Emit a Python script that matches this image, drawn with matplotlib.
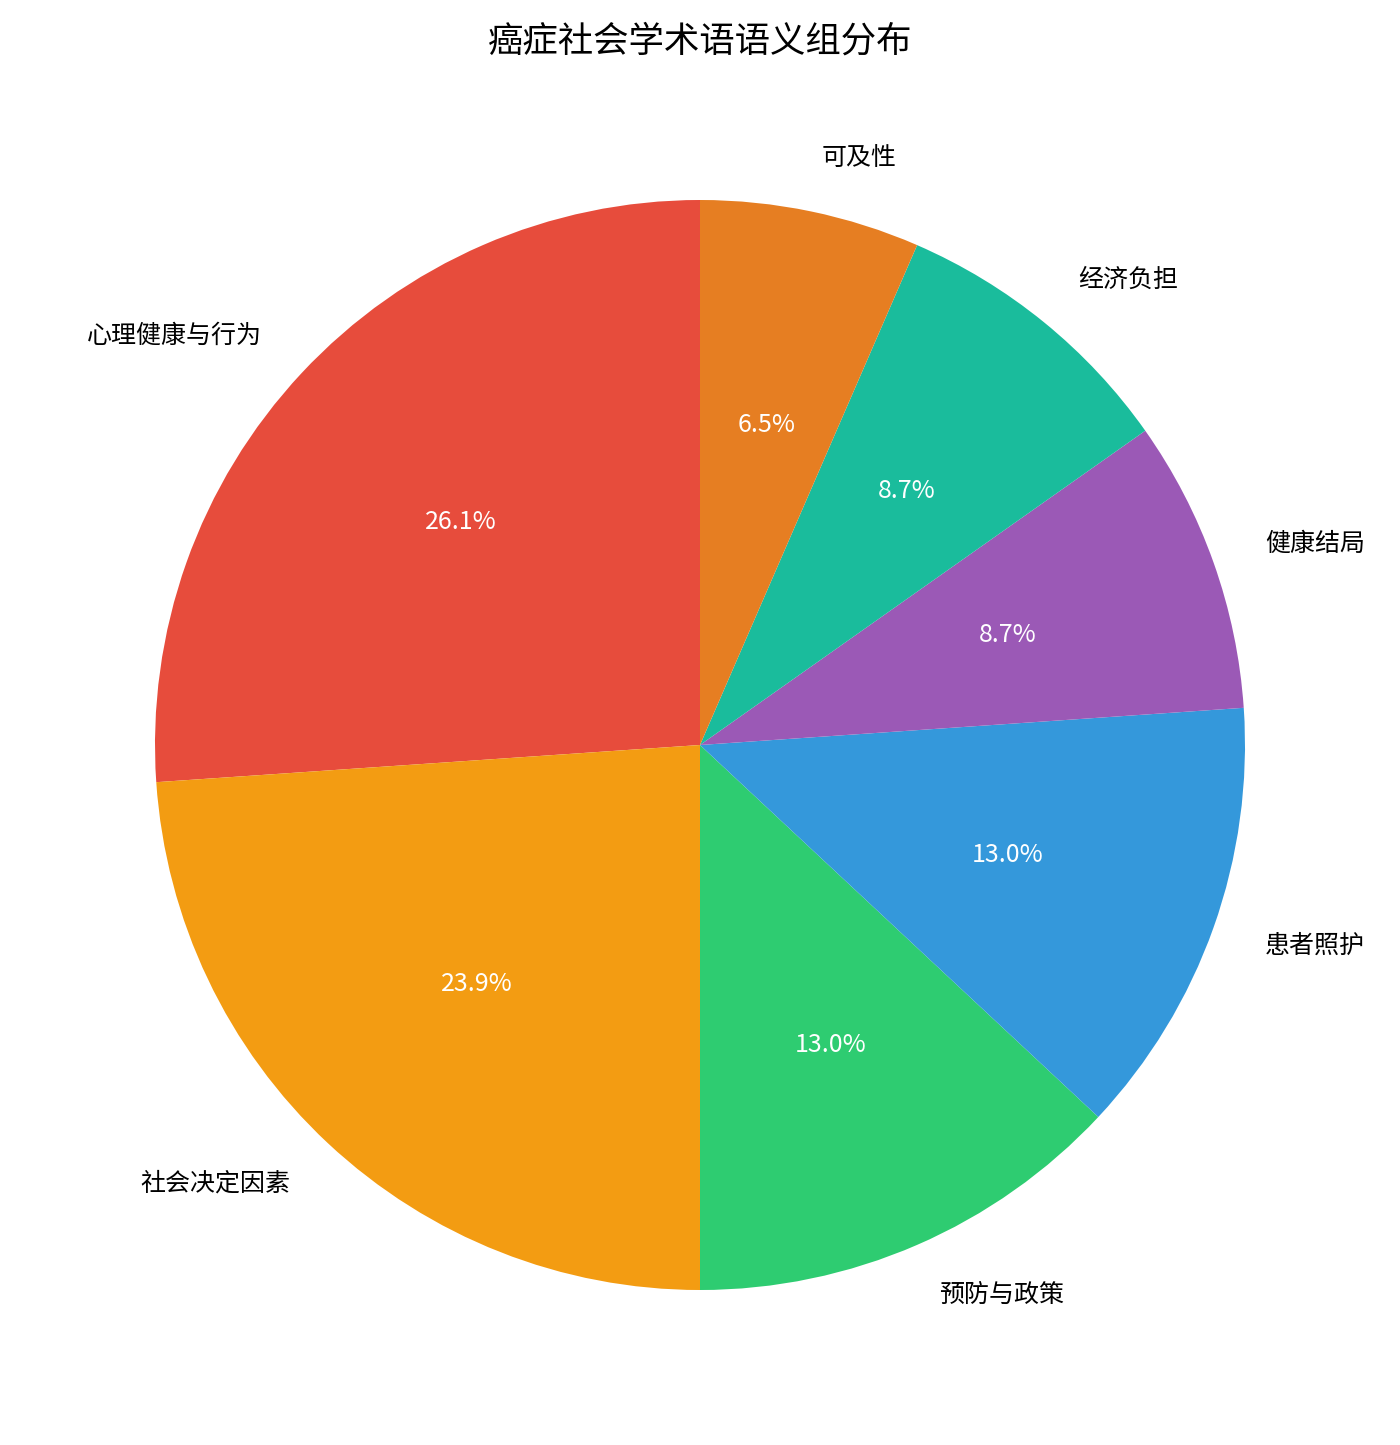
import matplotlib
matplotlib.use("Agg")
import matplotlib.pyplot as plt

plt.rcParams['font.family'] = ['Noto Sans CJK SC', 'DejaVu Sans']

labels = ['心理健康与行为', '社会决定因素', '预防与政策', '患者照护', '健康结局', '经济负担', '可及性']
counts = [12, 11, 6, 6, 4, 4, 3]
colors = ['#e74c3c', '#f39c12', '#2ecc71', '#3498db', '#9b59b6', '#1abc9c', '#e67e22']

W, H = 1400, 1445
fig = plt.figure(figsize=(W / 150, H / 150), dpi=150)
# pie centre (700, 745 from top), radius 545 px; pie limits are +-1.25
half = 545 * 1.25
ax = fig.add_axes([(700 - half) / W, (H - 745 - half) / H, 2 * half / W, 2 * half / H])
wedges, texts, autotexts = ax.pie(counts, labels=labels, colors=colors, autopct='%1.1f%%',
                                  startangle=90, textprops={'fontsize': 12})
for t in autotexts:
    t.set_color('white')
ax.set_title('癌症社会学术语语义组分布', fontsize=17)
fig.savefig('out.png', dpi=150)
